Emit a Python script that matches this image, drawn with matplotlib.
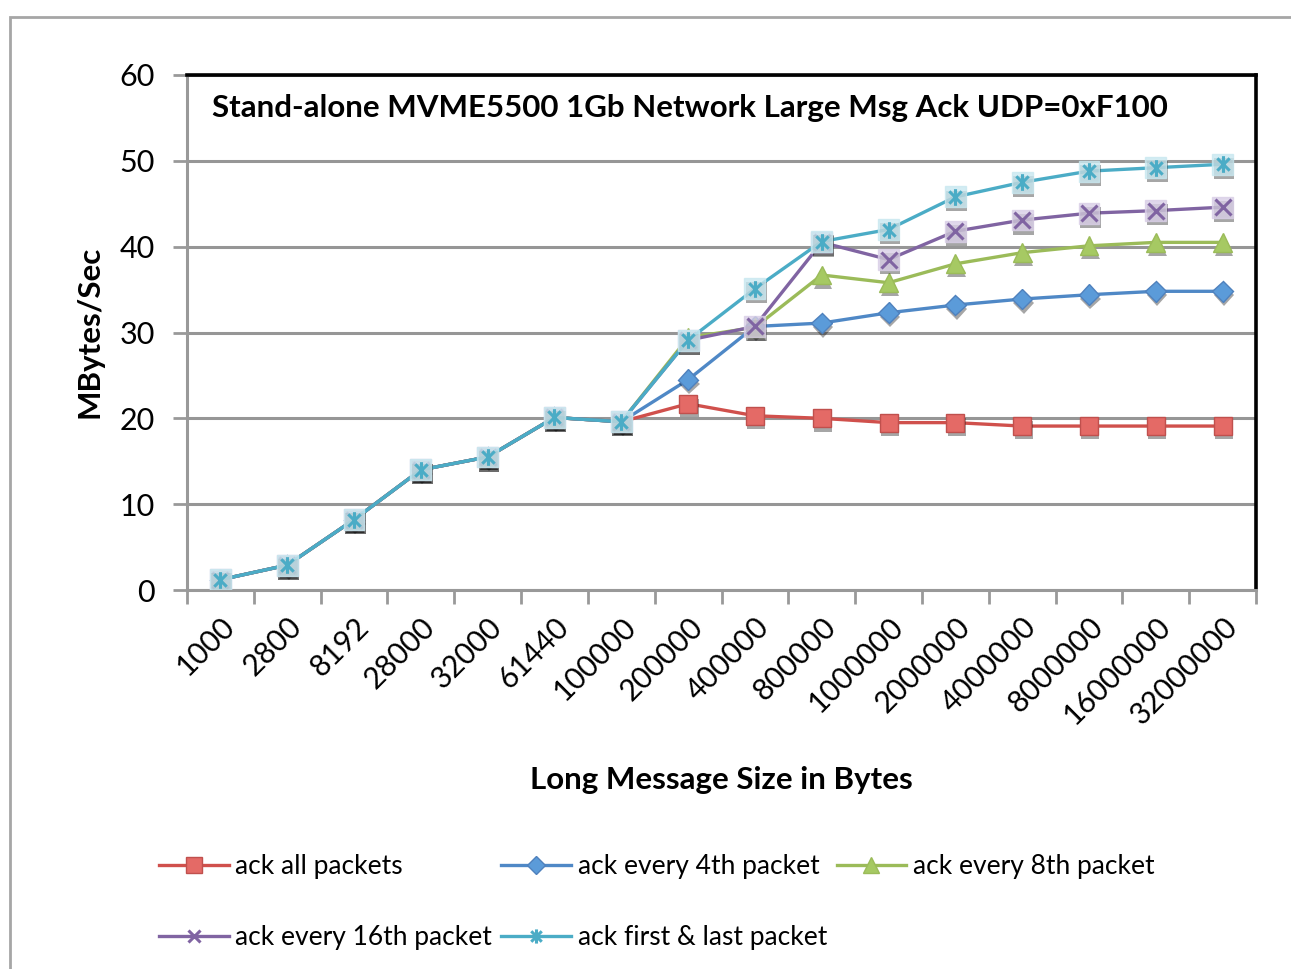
import matplotlib
matplotlib.use("Agg")
import matplotlib.pyplot as plt
from matplotlib.lines import Line2D
from matplotlib.patches import Rectangle
from matplotlib.path import Path
import matplotlib.patheffects as pe

plt.rcParams['font.family'] = ['Lato', 'DejaVu Sans']

categories = ["1000", "2800", "8192", "28000", "32000", "61440", "100000", "200000",
              "400000", "800000", "1000000", "2000000", "4000000", "8000000",
              "16000000", "32000000"]

ack_all = [1.2, 2.9, 8.2, 14.0, 15.5, 20.1, 19.6, 21.7, 20.3, 20.0, 19.5, 19.5, 19.1, 19.1, 19.1, 19.1]
ack_4th = [1.2, 2.9, 8.2, 14.0, 15.5, 20.1, 19.6, 24.5, 30.7, 31.1, 32.3, 33.2, 33.9, 34.4, 34.8, 34.8]
ack_8th = [1.2, 2.9, 8.2, 14.0, 15.5, 20.1, 19.6, 29.4, 30.6, 36.7, 35.8, 38.0, 39.3, 40.1, 40.5, 40.5]
ack_16th = [1.2, 2.9, 8.2, 14.0, 15.5, 20.1, 19.6, 29.1, 30.7, 40.5, 38.5, 41.8, 43.1, 43.9, 44.2, 44.6]
ack_first_last = [1.2, 2.9, 8.2, 14.0, 15.5, 20.1, 19.6, 29.1, 35.1, 40.6, 42.0, 45.8, 47.5, 48.8, 49.2, 49.6]

series_names = ["ack all packets", "ack every 4th packet", "ack every 8th packet",
                "ack every 16th packet", "ack first & last packet"]

W, H = 1291, 969
fig = plt.figure(figsize=(W / 100, H / 100), dpi=100)
ax = fig.add_axes([187 / W, 1 - 590 / H, (1256 - 187) / W, (590 - 75) / H])

star = Path([(-1, -1), (1, 1), (-1, 1), (1, -1), (0, -1.35), (0, 1.35)],
            [Path.MOVETO, Path.LINETO, Path.MOVETO, Path.LINETO, Path.MOVETO, Path.LINETO])

x = list(range(len(categories)))
styles = [
    dict(color='#D0504C', marker='s', ms=13, mfc='#E46A66', mec='#C0504D', mew=1.0),
    dict(color='#4F88C6', marker='D', ms=10.5, mfc='#5B9BD9', mec='#4F81BD', mew=1.0),
    dict(color='#9BBB59', marker='^', ms=13.5, mfc='#A6C963', mec='#9BBB59', mew=1.0),
    dict(color='#8064A2', marker='x', ms=11, mfc='#8064A2', mec='#8064A2', mew=2.2),
    dict(color='#4BACC6', marker=star, ms=12, mfc='#4BACC6', mec='#4BACC6', mew=2.2),
]
bgs = [None, None, None, '#D9CFE6', '#C9E8F0']
data = [ack_all, ack_4th, ack_8th, ack_16th, ack_first_last]

shadow = [pe.SimplePatchShadow(offset=(1, -3), alpha=0.35, shadow_rgbFace='black'), pe.Normal()]
handles = []
for i, (vals, st, bg) in enumerate(zip(data, styles, bgs)):
    z = 3 + i
    ax.plot(x, vals, color=st['color'], lw=2.4, zorder=z, solid_capstyle='round')
    if bg is not None:
        ax.plot(x, vals, ls='none', marker='s', ms=15, mfc=bg, mec=bg, alpha=0.8,
                zorder=z, path_effects=shadow)
        ax.plot(x, vals, ls='none', marker=st['marker'], ms=st['ms'],
                mec=st['mec'], mfc=st['mfc'], mew=st['mew'], zorder=z)
    else:
        ax.plot(x, vals, ls='none', marker=st['marker'], ms=st['ms'],
                mec=st['mec'], mfc=st['mfc'], mew=st['mew'], zorder=z, path_effects=shadow)
    handles.append(Line2D([], [], color=st['color'], lw=2.4, marker=st['marker'],
                          ms=st['ms'] * 0.85, mfc=st['mfc'], mec=st['mec'], mew=st['mew']))

ax.set_xlim(-0.5, len(categories) - 0.5)
ax.set_ylim(0, 60)
ax.set_yticks(range(0, 61, 10))
ax.yaxis.grid(True, color='#969696', lw=2.2)
ax.set_axisbelow(True)

ax.set_xticks(x)
ax.set_xticklabels(categories, rotation=45, ha='right', rotation_mode='anchor', fontsize=21.5)
ax.set_xticks([i - 0.5 for i in range(len(categories) + 1)], minor=True)
ax.tick_params(axis='x', which='major', length=0, pad=16)
ax.tick_params(axis='x', which='minor', length=10, width=2, color='#999999')
ax.tick_params(axis='y', length=10, width=2, color='#999999', labelsize=22, pad=13)

for s in ['left', 'bottom']:
    ax.spines[s].set_color('#999999')
    ax.spines[s].set_linewidth(2.2)
for s in ['top', 'right']:
    ax.spines[s].set_color('black')
    ax.spines[s].set_linewidth(2.6)

ax.text((212 - 187) / (1256 - 187), (590 - 108) / (590 - 75),
        "Stand-alone MVME5500 1Gb Network Large Msg Ack UDP=0xF100",
        transform=ax.transAxes, ha='left', va='center', fontsize=22.5, fontweight='bold')

fig.text(721 / W, 1 - 780 / H, "Long Message Size in Bytes", ha='center', va='center',
         fontsize=22.5, fontweight='bold')
fig.text(90 / W, 1 - 332 / H, "MBytes/Sec", ha='center', va='center', rotation=90,
         fontsize=22.5, fontweight='bold')

order = [0, 3, 1, 4, 2]
leg = fig.legend([handles[i] for i in order], [series_names[i] for i in order],
                 ncol=3, loc='upper left', bbox_to_anchor=(135 / W, 1 - 830 / H),
                 frameon=False, fontsize=19, handlelength=2.65, handletextpad=0.25,
                 columnspacing=0.35, labelspacing=1.75)

fig.add_artist(Rectangle((10 / W, -0.02), 1.0, (969 - 17) / H + 0.02, transform=fig.transFigure,
                         fill=False, edgecolor='#A6A6A6', lw=2.0))

fig.savefig("out.png", dpi=100)
